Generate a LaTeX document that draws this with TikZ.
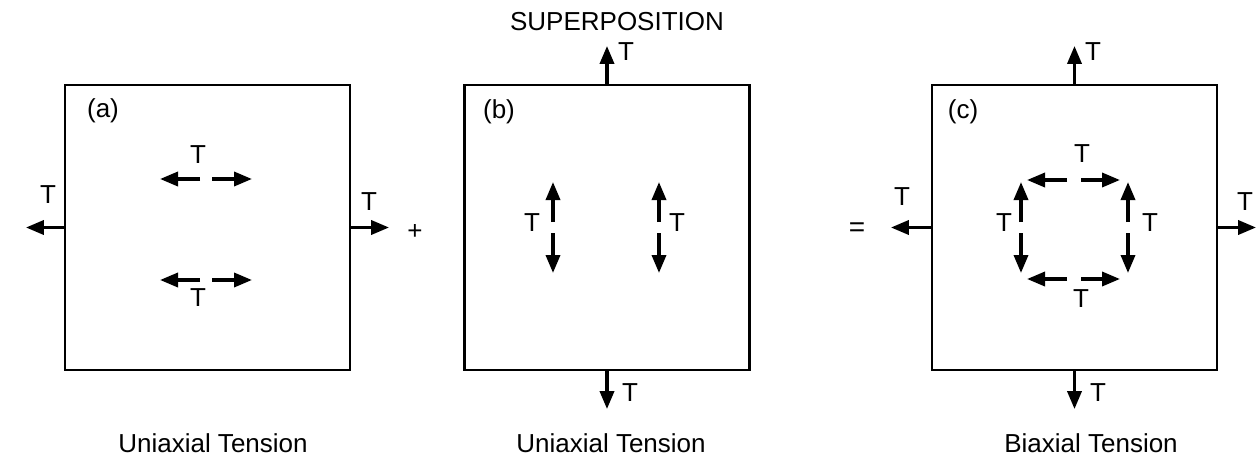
\documentclass[tikz,border=0pt]{standalone}
\usepackage{fontspec}
\setmainfont{Liberation Sans}
\usetikzlibrary{arrows.meta}
\tikzset{
  panel/.style={draw,line width=2.2pt,minimum width=285pt,minimum height=285pt,inner sep=0pt},
  force/.style={line width=3.5pt,-{Triangle[length=18pt,width=14pt]}},
  lbl/.style={font=\fontsize{26}{28}\selectfont,inner sep=0pt},
}
\begin{document}
\begin{tikzpicture}[x=1pt,y=-1pt]
\useasboundingbox (0,0) rectangle (1256,459);
\node (boxa) [panel] at (207.5,227.5) {};
\node (boxb) [panel] at (607,227.5) {};
\node (boxc) [panel] at (1074.5,227.5) {};
\node (tagA) [lbl] at (103,111) {(a)};
\node (tagB) [lbl] at (499,112) {(b)};
\node (tagC) [lbl] at (963,112) {(c)};
\node (title) [lbl] at (617,22) {SUPERPOSITION};
\node (capA) [lbl] at (213,443) {Uniaxial Tension};
\node (capB) [lbl] at (611,443) {Uniaxial Tension};
\node (capC) [lbl] at (1091,443) {Biaxial Tension};
\node (plus) [font=\fontsize{26}{28}\selectfont,inner sep=0pt] at (415,232) {+};
\node (equal) [font=\fontsize{28}{30}\selectfont,inner sep=0pt] at (857,230) {=};
\draw[force] (boxa.west) -- ++(-38,0);
\draw[force] (boxa.east) -- ++(38,0);
\draw[force] (boxb.north) -- ++(0,-38);
\draw[force] (boxb.south) -- ++(0,38);
\draw[force] (boxc.west) -- ++(-40,0);
\draw[force] (boxc.east) -- ++(38,0);
\draw[force] (boxc.north) -- ++(0,-38);
\draw[force] (boxc.south) -- ++(0,38);
\foreach \y in {179,280} {
    \draw[force] (200,\y) -- (160,\y);
    \draw[force] (212,\y) -- (252,\y);
}
\foreach \y in {180,279} {
    \draw[force] (1067,\y) -- (1027,\y);
    \draw[force] (1081,\y) -- (1120,\y);
}
\foreach \x in {553,659,1021,1128} {
    \draw[force] (\x,222) -- (\x,182);
    \draw[force] (\x,233) -- (\x,273);
}
\foreach \n/\x/\y in {a1/198/155,a2/198/298,a3/48/195,a4/369/202,
    b1/626/52,b2/630/393,b3/532/223,b4/677/223,
    c1/1093/52,c2/1098/393,c3/1082/154,c4/1081/299,c5/1004/223,c6/1150/223,c7/902/197,c8/1245/202} {
    \node (t\n) [lbl] at (\x,\y) {T};
}
\end{tikzpicture}
\end{document}
